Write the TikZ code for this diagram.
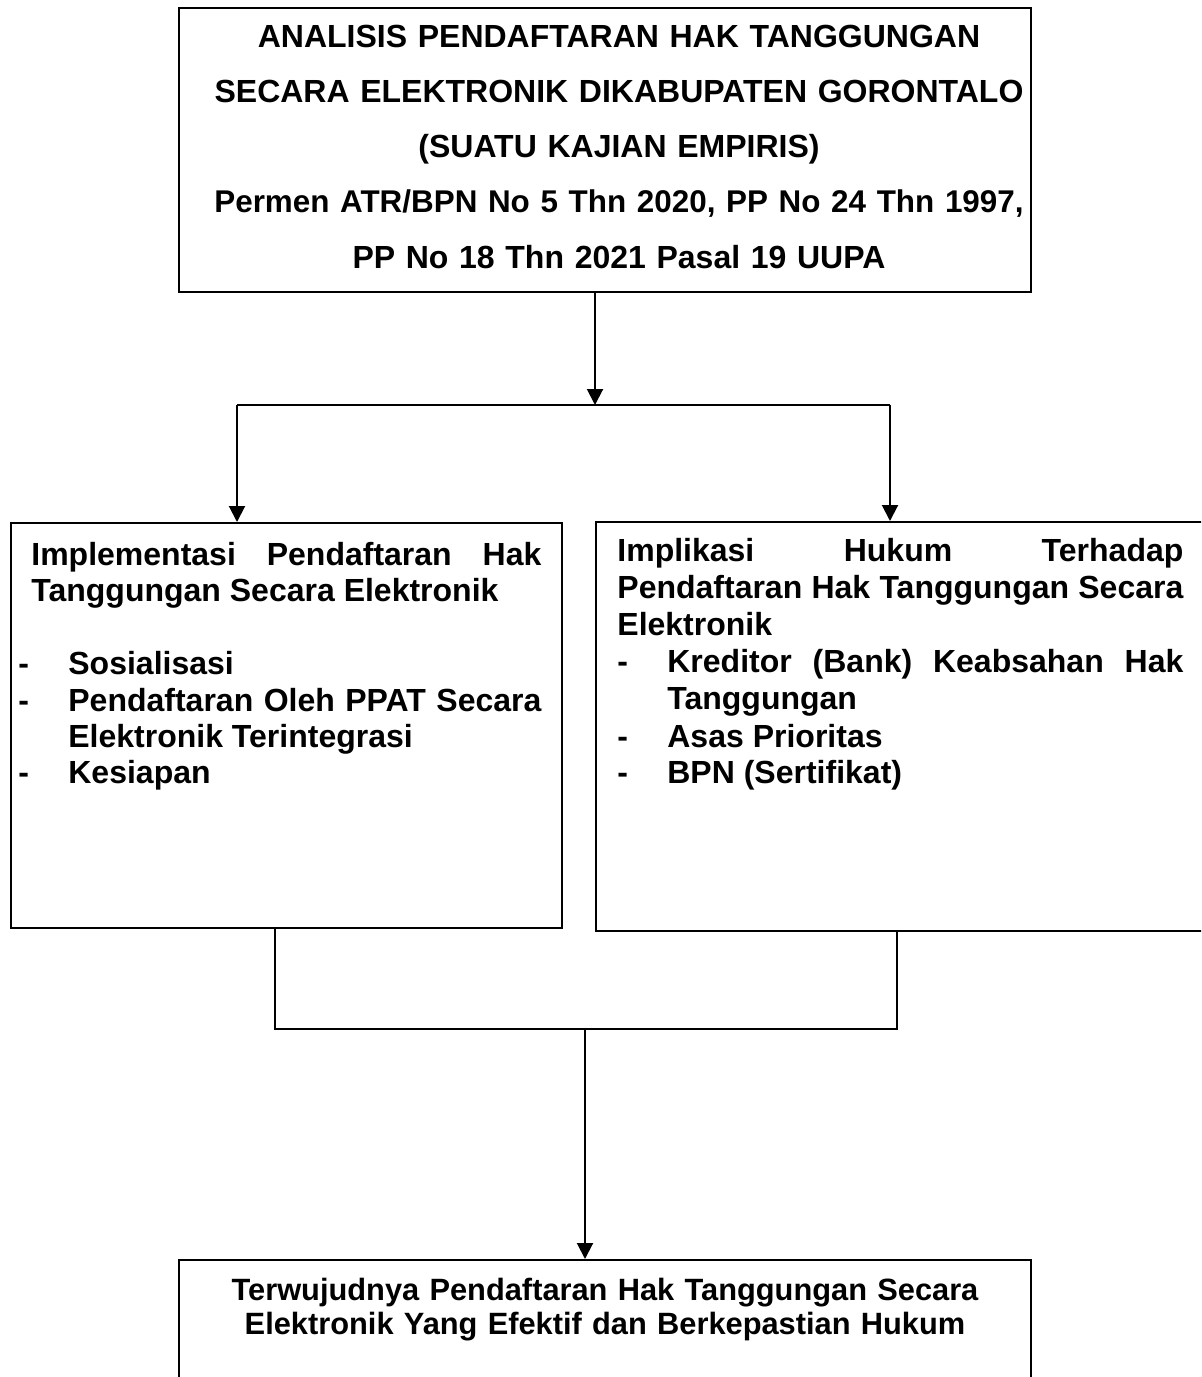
\documentclass[tikz,border=0pt]{standalone}
\usepackage{fontspec}
\setmainfont{Liberation Sans}
\usetikzlibrary{arrows.meta}
\tikzstyle{kotak}=[draw=black,line width=1pt,rectangle,inner sep=0pt,anchor=north west]
\tikzstyle{teks}=[inner sep=0pt,font=\bfseries\fontsize{16pt}{18pt}\selectfont]
\tikzstyle{panah}=[line width=1pt,-{Triangle[width=8pt,length=8pt]}]
\tikzstyle{garis}=[line width=1pt]
\newcommand{\butir}[1]{\par\noindent\hangindent=25pt\hangafter=1\makebox[25pt][l]{-}#1}
\tolerance=10000 \hbadness=10000 \frenchspacing

\begin{document}
\begin{tikzpicture}[x=0.5pt,y=-0.5pt]
  \useasboundingbox (0,0) rectangle (1201,1377);
  \clip (0,0) rectangle (1201,1377);
  % kotak-kotak
  \node[kotak,minimum width=426pt,minimum height=142pt] (judul) at (178,7) {};
  \node[kotak,minimum width=275.5pt,minimum height=202.5pt] (implementasi) at (10,522) {};
  \node[kotak,minimum width=350pt,minimum height=204.5pt] (implikasi) at (595,521) {};
  \node[kotak,minimum width=426pt,minimum height=100pt] (hasil) at (178,1259) {};
  % teks
  \node[teks,anchor=base,text width=426pt,align=center,
    font=\bfseries\fontsize{16pt}{27.65pt}\selectfont] (judulteks) at (619,47)
    {ANALISIS PENDAFTARAN HAK TANGGUNGAN\\
     SECARA ELEKTRONIK DIKABUPATEN GORONTALO\\
     (SUATU KAJIAN EMPIRIS)\\
     {\fontsize{15.7pt}{27.65pt}\selectfont Permen ATR/BPN No 5 Thn 2020, PP No 24 Thn 1997,}\\
     PP No 18 Thn 2021 Pasal 19 UUPA};
  \node[teks,anchor=base west,text width=261.5pt,align=justify] (implementasiteks) at (18,565)
    {\setlength{\baselineskip}{18.25pt}%
     {\leftskip=6.5pt\noindent Implementasi Pendaftaran Hak\linebreak Tanggungan Secara Elektronik\par}
     \vspace{18.25pt}%
     \butir{Sosialisasi}
     \butir{Pendaftaran Oleh PPAT Secara\linebreak Elektronik Terintegrasi}
     \butir{Kesiapan}};
  \node[teks,anchor=base west,text width=283pt,align=justify] (implikasiteks) at (617,561)
    {\setlength{\baselineskip}{18.6pt}%
     \noindent Implikasi Hukum Terhadap\linebreak Pendaftaran Hak Tanggungan Secara\linebreak Elektronik
     \butir{Kreditor (Bank) Keabsahan Hak\linebreak Tanggungan}
     \butir{Asas Prioritas}
     \butir{BPN (Sertifikat)}};
  \node[teks,anchor=base,text width=426pt,align=center,
    font=\bfseries\fontsize{15.4pt}{17.4pt}\selectfont] (hasilteks) at (605,1300)
    {Terwujudnya Pendaftaran Hak Tanggungan Secara\\
     Elektronik Yang Efektif dan Berkepastian Hukum};
  % penghubung
  \coordinate (cabang) at (595,405);
  \coordinate (cabangkiri) at (237,405);
  \coordinate (cabangkanan) at (890,405);
  \coordinate (turunkiri) at (275,1029);
  \coordinate (turunkanan) at (897,1029);
  \coordinate (gabung) at (585,1029);
  \draw[panah] (judul.south -| cabang) -- (cabang);
  \draw[garis] (cabangkiri) -- (cabangkanan);
  \draw[panah] (cabangkiri) -- (cabangkiri |- implementasi.north);
  \draw[panah] (cabangkanan) -- (cabangkanan |- implikasi.north);
  \draw[garis] (turunkiri |- implementasi.south) -- (turunkiri) -- (turunkanan) -- (turunkanan |- implikasi.south);
  \draw[panah] (gabung) -- (gabung |- hasil.north);
\end{tikzpicture}
\end{document}
